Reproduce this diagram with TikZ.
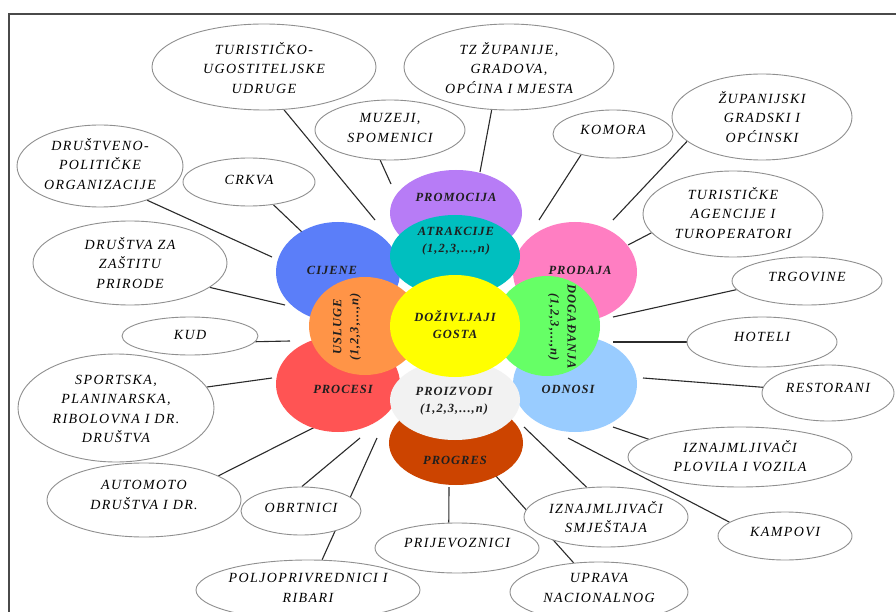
\documentclass[tikz,border=0pt]{standalone}
\usepackage{fontspec}
\setmainfont{Liberation Serif}
\newfontfamily\outfont[LetterSpace=10]{Liberation Serif}
\newfontfamily\petfont[LetterSpace=8]{Liberation Serif}
\usetikzlibrary{shapes.geometric}
\pgfdeclarelayer{bg}
\pgfdeclarelayer{paper}
\pgfsetlayers{paper,bg,main}
\definecolor{bubline}{HTML}{8F8F8F}
\definecolor{connline}{HTML}{2B2B2B}
\definecolor{framec}{HTML}{4A4A4A}
\definecolor{pPurple}{HTML}{B77CF6}
\definecolor{pTeal}{HTML}{00BFBF}
\definecolor{pBlue}{HTML}{5B7EF9}
\definecolor{pPink}{HTML}{FF7EC2}
\definecolor{pOrange}{HTML}{FF9447}
\definecolor{pGreen}{HTML}{66FF66}
\definecolor{pYellow}{HTML}{FFFF00}
\definecolor{pRed}{HTML}{FF5454}
\definecolor{pLblue}{HTML}{99CCFF}
\definecolor{pGray}{HTML}{F2F2F2}
\definecolor{pProg}{HTML}{CC4400}
\tikzset{
  bub/.style={ellipse, draw=bubline, line width=0.9pt, fill=white, inner sep=0pt},
  btxt/.style={align=center, inner sep=0pt, font=\outfont\itshape\fontsize{14}{19.5}\selectfont},
  pet/.style={ellipse, draw=none, inner sep=0pt},
  ptxt/.style={align=center, inner sep=0pt, text=black!88, font=\petfont\bfseries\itshape\fontsize{12.5}{17}\selectfont},
  conn/.style={draw=connline, line width=1.1pt},
}
\newcommand\bubble[7]{%
  \node[bub, minimum width=#4pt, minimum height=#5pt] (#1) at (#2,#3) {};
  \node[btxt] (#1-t) at (#2,#6) {#7};
}
\newcommand\petal[6]{%
  \node[pet, fill=#6, minimum width=#4pt, minimum height=#5pt] (#1) at (#2,#3) {};
}
\begin{document}
\begin{tikzpicture}[x=1pt, y=-1pt]
\useasboundingbox (0,0) rectangle (896,612);
\begin{pgfonlayer}{paper}
\fill[white] (0,0) rectangle (896,612);
\end{pgfonlayer}
\coordinate (fa) at (9,612);
\coordinate (fb) at (9,14);
\coordinate (fc) at (896,14);
\draw[framec, line width=2pt] (fa) -- (fb) -- (fc);

% petals
\petal{promocija}{456}{213}{132}{86}{pPurple}
\petal{progres}{456}{443}{134}{84}{pProg}
\petal{cijene}{338}{272}{124}{100}{pBlue}
\petal{prodaja}{575}{272}{124}{100}{pPink}
\petal{procesi}{338}{384}{124}{96}{pRed}
\petal{odnosi}{575}{384}{124}{96}{pLblue}
\petal{atrakcije}{455}{256}{130}{82}{pTeal}
\petal{proizvodi}{455}{400}{130}{80}{pGray}
\petal{usluge}{365}{326}{112}{98}{pOrange}
\petal{dogadanja}{547}{326}{106}{100}{pGreen}
\petal{dozivljaji}{455}{326}{130}{102}{pYellow}

\node[ptxt] (t-promocija) at (456,197) {PROMOCIJA};
\node[ptxt] (t-atrakcije) at (456,241) {ATRAKCIJE\\(1,2,3,...,\textit{n})};
\node[ptxt] (t-cijene) at (332,270) {CIJENE};
\node[ptxt] (t-prodaja) at (580,270) {PRODAJA};
\node[ptxt, rotate=90] (t-usluge) at (347,327) {USLUGE\\(1,2,3,...,\textit{n})};
\node[ptxt] (t-dozivljaji) at (455,325) {DOŽIVLJAJI\\GOSTA};
\node[ptxt, rotate=-90] (t-dogadanja) at (562,327) {DOGAĐANJA\\(1,2,3,...,\textit{n})};
\node[ptxt] (t-procesi) at (343,389) {PROCESI};
\node[ptxt] (t-odnosi) at (568,389) {ODNOSI};
\node[ptxt] (t-proizvodi) at (454,401) {PROIZVODI\\(1,2,3,...,\textit{n})};
\node[ptxt] (t-progres) at (455,460) {PROGRES};

% bubbles
\bubble{turug}{264}{67}{224}{86}{68}{TURISTIČKO-\\UGOSTITELJSKE\\UDRUGE}
\bubble{tz}{509}{67}{210}{86}{68}{TZ ŽUPANIJE,\\GRADOVA,\\OPĆINA I MJESTA}
\bubble{muzeji}{390}{130}{150}{60}{128}{MUZEJI,\\SPOMENICI}
\bubble{komora}{613}{134}{120}{48}{130}{KOMORA}
\bubble{zupan}{762}{117}{180}{86}{117}{ŽUPANIJSKI\\GRADSKI I\\OPĆINSKI}
\bubble{agenc}{733}{214}{180}{86}{213}{TURISTIČKE\\AGENCIJE I\\TUROPERATORI}
\bubble{crkva}{249}{182}{132}{48}{180}{CRKVA}
\bubble{drustv}{100}{166}{166}{82}{164}{DRUŠTVENO-\\POLITIČKE\\ORGANIZACIJE}
\bubble{zastita}{130}{263}{194}{84}{263}{DRUŠTVA ZA\\ZAŠTITU\\PRIRODE}
\bubble{trgov}{807}{281}{150}{48}{277}{TRGOVINE}
\bubble{kud}{190}{336}{136}{38}{335}{KUD}
\bubble{hoteli}{762}{342}{150}{50}{337}{HOTELI}
\bubble{sport}{116}{408}{196}{108}{409}{SPORTSKA,\\PLANINARSKA,\\RIBOLOVNA I DR.\\DRUŠTVA}
\bubble{restor}{828}{393}{132}{56}{388}{RESTORANI}
\bubble{plovila}{740}{457}{224}{60}{456}{IZNAJMLJIVAČI\\PLOVILA I VOZILA}
\bubble{automoto}{144}{500}{194}{74}{495}{AUTOMOTO\\DRUŠTVA I DR.}
\bubble{obrt}{301}{511}{120}{48}{508}{OBRTNICI}
\bubble{smjest}{606}{517}{164}{60}{517}{IZNAJMLJIVAČI\\SMJEŠTAJA}
\bubble{kamp}{785}{536}{134}{48}{532}{KAMPOVI}
\bubble{prijev}{457}{548}{164}{50}{543}{PRIJEVOZNICI}
\bubble{poljo}{308}{590}{224}{60}{588}{POLJOPRIVREDNICI I\\RIBARI}
\bubble{uprava}{599}{592}{178}{60}{588}{UPRAVA\\NACIONALNOG}

% connector free ends
\coordinate (e1) at (375,220);
\coordinate (e2) at (391,184);
\coordinate (e3) at (480,172);
\coordinate (e4) at (539,220);
\coordinate (e5) at (613,220);
\coordinate (e6) at (628,245);
\coordinate (e7) at (613,317);
\coordinate (e8) at (613,342);
\coordinate (e9) at (643,378);
\coordinate (e10) at (613,427);
\coordinate (e11) at (568,438);
\coordinate (e12) at (524,427);
\coordinate (e13) at (495,475);
\coordinate (e14) at (449,487);
\coordinate (e15) at (377,438);
\coordinate (e16) at (360,438);
\coordinate (e17) at (315,427);
\coordinate (e18) at (272,378);
\coordinate (e19) at (290,341);
\coordinate (e20) at (285,305);
\coordinate (e21) at (272,257);
\coordinate (e22) at (302,232);

\begin{pgfonlayer}{bg}
\draw[conn] (turug.-65) -- (e1);
\draw[conn] (muzeji.-108) -- (e2);
\draw[conn] (tz.-112) -- (e3);
\draw[conn] (komora.-147) -- (e4);
\draw[conn] (zupan.-162) -- (e5);
\draw[conn] (agenc.-167) -- (e6);
\draw[conn] (trgov.-173) -- (e7);
\draw[conn] (hoteli.180) -- (e8);
\draw[conn] (restor.175) -- (e9);
\draw[conn] (plovila.169) -- (e10);
\draw[conn] (kamp.166) -- (e11);
\draw[conn] (smjest.123) -- (e12);
\draw[conn] (uprava.131) -- (e13);
\draw[conn] (prijev.108) -- (e14);
\draw[conn] (poljo.65) -- (e15);
\draw[conn] (obrt.88) -- (e16);
\draw[conn] (automoto.18) -- (e17);
\draw[conn] (sport.13) -- (e18);
\draw[conn] (kud.-5) -- (e19);
\draw[conn] (zastita.-17) -- (e20);
\draw[conn] (drustv.-36) -- (e21);
\draw[conn] (crkva.-43) -- (e22);
\end{pgfonlayer}
\end{tikzpicture}
\end{document}
